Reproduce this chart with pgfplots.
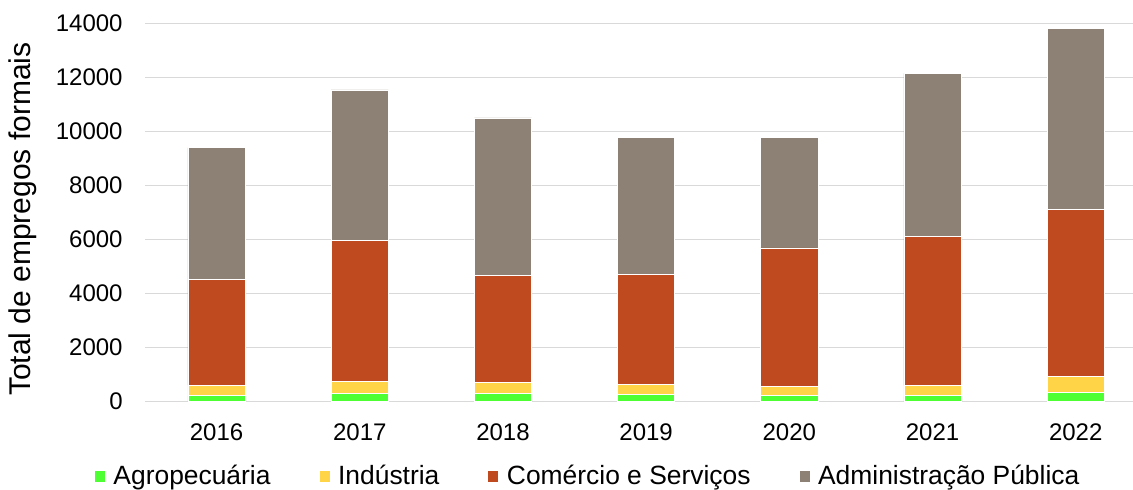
\documentclass[border=0pt]{standalone}
\usepackage{fontspec}
\setmainfont{Liberation Sans}
\usepackage{pgfplots}
\pgfplotsset{compat=1.18}
\definecolor{agro}{HTML}{4DFF33}
\definecolor{ind}{HTML}{FFD447}
\definecolor{com}{HTML}{C04A20}
\definecolor{adm}{HTML}{8C8174}
\definecolor{gridc}{HTML}{D9D9D9}
\begin{document}
\begin{tikzpicture}
\path[use as bounding box] (0,0) rectangle (566.5pt,244.5pt);
\begin{axis}[
  at={(72.5pt,43.85pt)}, anchor=south west,
  scale only axis, width=494pt, height=189pt,
  ybar stacked, bar width=0.4,
  xmin=-0.5, xmax=6.4, ymin=0, ymax=14000,
  xtick={0,1,2,3,4,5,6},
  xticklabels={2016,2017,2018,2019,2020,2021,2022},
  ytick={0,2000,4000,6000,8000,10000,12000,14000},
  /pgf/number format/assume math mode=true,
  /pgf/number format/1000 sep={},
  scaled y ticks=false,
  axis line style={draw=none},
  major tick length=0pt,
  ymajorgrids,
  grid style={draw=gridc, line width=0.75pt},
  tick label style={font=\fontsize{12}{14}\selectfont},
  xticklabel style={inner sep=0pt, anchor=north, yshift=-11pt},
  yticklabel style={inner sep=0pt, anchor=east, xshift=-11pt},
  ylabel={Total de empregos formais},
  ylabel style={at={(axis description cs:-0.1235,0.482)}, anchor=center, rotate=0, font=\fontsize{15}{17}\selectfont},
  legend columns=4,
  legend style={at={(axis description cs:0.449,-0.199)}, anchor=center, draw=none, fill=none,
    font=\fontsize{13.2}{15}\selectfont, inner sep=0pt,
    /tikz/every even column/.append style={column sep=22pt}},
  legend image code/.code={\fill[#1] (0pt,-2.8pt) rectangle (5.5pt,3pt); \path (7.5pt,0pt);},
  every axis plot/.append style={draw=white, line width=0.3pt},
]
\addplot[fill=agro] coordinates {(0,207) (1,281) (2,307) (3,244) (4,207) (5,207) (6,319)};
\addplot[fill=ind] coordinates {(0,386) (1,460) (2,382) (3,371) (4,334) (5,386) (6,618)};
\addplot[fill=com] coordinates {(0,3911) (1,5222) (2,3989) (3,4089) (4,5137) (5,5518) (6,6159)};
\addplot[fill=adm] coordinates {(0,4889) (1,5567) (2,5815) (3,5085) (4,4085) (5,6037) (6,6719)};
\legend{Agropecuária,Indústria,Comércio e Serviços,Administração Pública}
\end{axis}
\end{tikzpicture}
\end{document}
